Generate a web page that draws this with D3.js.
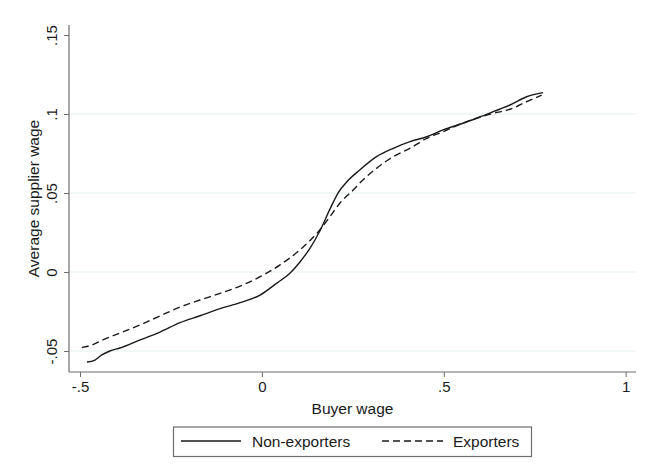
<!DOCTYPE html>
<html><head><meta charset="utf-8">
<script src="https://cdn.jsdelivr.net/npm/d3@7"></script>
<style>body{margin:0;background:#fff}svg{display:block}text{font-family:"Liberation Sans",Arial,sans-serif;fill:#1a1a1a}</style>
</head><body>
<script>
const xTicks = [-0.5, 0, 0.5, 1];
const xTickLabels = ["-.5", "0", ".5", "1"];
const yTicks = [-0.05, 0, 0.05, 0.1, 0.15];
const yTickLabels = ["-.05", "0", ".05", ".1", ".15"];
const gridTicks = [-0.05, 0, 0.05, 0.1];
const seriesNames = ["Non-exporters", "Exporters"];
const nonExpX = [-0.481,-0.459,-0.440,-0.418,-0.390,-0.335,-0.280,-0.225,-0.170,-0.115,-0.060,-0.005,0.040,0.077,0.104,0.132,0.159,0.187,0.210,0.233,0.269,0.315,0.361,0.407,0.453,0.498,0.544,0.590,0.636,0.682,0.728,0.773];
const nonExpY = [-0.0570,-0.0557,-0.0525,-0.0500,-0.0481,-0.0430,-0.0380,-0.0321,-0.0277,-0.0232,-0.0194,-0.0146,-0.0072,-0.0008,0.0062,0.0150,0.0258,0.0398,0.0503,0.0570,0.0646,0.0730,0.0783,0.0825,0.0856,0.0899,0.0935,0.0973,0.1015,0.1057,0.1109,0.1135];
const expX = [-0.495,-0.467,-0.437,-0.390,-0.335,-0.280,-0.225,-0.170,-0.115,-0.060,-0.005,0.049,0.104,0.159,0.187,0.214,0.251,0.269,0.315,0.361,0.407,0.453,0.498,0.544,0.590,0.636,0.682,0.728,0.769];
const expY = [-0.0477,-0.0462,-0.0430,-0.0386,-0.0335,-0.0278,-0.0222,-0.0177,-0.0135,-0.0089,-0.0030,0.0044,0.0139,0.0266,0.0350,0.0435,0.0519,0.0563,0.0656,0.0730,0.0783,0.0846,0.0888,0.0935,0.0973,0.1004,0.1030,0.1078,0.1120];

const W = 647, H = 476;
const svg = d3.select("body").append("svg").attr("width", W).attr("height", H);
const pL = 69, pR = 636, pT = 25, pB = 372;
const x = d3.scaleLinear().domain([-0.5, 1]).range([80, 625.7]);
const y = d3.scaleLinear().domain([0, 0.15]).range([272, 35]);

// grid
svg.append("g").selectAll("line").data(gridTicks).join("line")
  .attr("x1", pL).attr("x2", pR)
  .attr("y1", d => y(d)).attr("y2", d => y(d))
  .attr("stroke", "#e3eded").attr("stroke-width", 1);

// axes
const axisColor = "#6e6e6e";
const yAxis = svg.append("g").attr("transform", `translate(${pL},0)`)
  .call(d3.axisLeft(y).tickValues(yTicks).tickFormat((d, i) => yTickLabels[i]).tickSize(5).tickPadding(3));
yAxis.select(".domain").remove();
yAxis.selectAll(".tick line").attr("stroke", axisColor);
yAxis.selectAll(".tick text").attr("transform", "rotate(-90)").attr("x", 0).attr("y", -12)
  .attr("dy", 0).attr("text-anchor", "middle").style("font-size", "15px").style("font-family", '"Liberation Sans",Arial,sans-serif').attr("fill", "#1a1a1a");
svg.append("line").attr("x1", pL).attr("x2", pL).attr("y1", pT).attr("y2", pB).attr("stroke", axisColor).attr("stroke-width", 1.2);

const xAxis = svg.append("g").attr("transform", `translate(0,${pB})`)
  .call(d3.axisBottom(x).tickValues(xTicks).tickFormat((d, i) => xTickLabels[i]).tickSize(5).tickPadding(4));
xAxis.select(".domain").remove();
xAxis.selectAll(".tick line").attr("stroke", axisColor);
xAxis.selectAll(".tick text").style("font-size", "15px").style("font-family", '"Liberation Sans",Arial,sans-serif').attr("fill", "#1a1a1a");
svg.append("line").attr("x1", pL).attr("x2", pR).attr("y1", pB).attr("y2", pB).attr("stroke", axisColor).attr("stroke-width", 1.2);

// titles
svg.append("text").attr("x", (pL + pR) / 2).attr("y", 414).attr("text-anchor", "middle")
  .style("font-size", "15.5px").text("Buyer wage");
svg.append("text").attr("transform", `translate(39,${(pT + pB) / 2}) rotate(-90)`).attr("text-anchor", "middle")
  .style("font-size", "15.5px").text("Average supplier wage");

// lines
const line = d3.line().x(d => x(d[0])).y(d => y(d[1])).curve(d3.curveMonotoneX);
const nonExp = nonExpX.map((v, i) => [v, nonExpY[i]]);
const exp = expX.map((v, i) => [v, expY[i]]);
svg.append("path").datum(nonExp).attr("d", line).attr("fill", "none").attr("stroke", "#1a1a1a").attr("stroke-width", 1.4);
svg.append("path").datum(exp).attr("d", line).attr("fill", "none").attr("stroke", "#1a1a1a").attr("stroke-width", 1.4).attr("stroke-dasharray", "7,4");

// legend
const lg = svg.append("g");
lg.append("rect").attr("x", 173.5).attr("y", 427).attr("width", 358).attr("height", 29.5)
  .attr("fill", "#fff").attr("stroke", "#6e6e6e").attr("stroke-width", 1.2);
const items = [
  {name: seriesNames[0], x1: 181, x2: 241, tx: 252, dash: null},
  {name: seriesNames[1], x1: 382, x2: 443, tx: 453, dash: "7,4"}
];
items.forEach(it => {
  const l = lg.append("line").attr("x1", it.x1).attr("x2", it.x2).attr("y1", 441).attr("y2", 441)
    .attr("stroke", "#1a1a1a").attr("stroke-width", 1.4);
  if (it.dash) l.attr("stroke-dasharray", it.dash);
  lg.append("text").attr("x", it.tx).attr("y", 447).style("font-size", "15.5px").text(it.name);
});
</script>
</body></html>
